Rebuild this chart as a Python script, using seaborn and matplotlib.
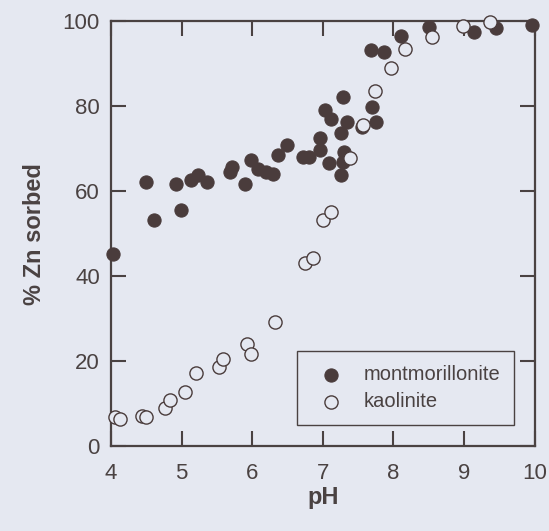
import numpy as np
import pandas as pd
import seaborn as sns
import matplotlib.pyplot as plt

# ============================ DATA ====================================

mont_ph = [4.03, 4.50, 4.61, 4.92, 4.99, 5.13, 5.24, 5.36, 5.68, 5.71,
           5.90, 5.98, 6.08, 6.20, 6.29, 6.36, 6.50, 6.72, 6.80, 6.96,
           6.96, 7.03, 7.09, 7.12, 7.26, 7.26, 7.28, 7.29, 7.30, 7.34,
           7.55, 7.68, 7.69, 7.76, 7.87, 8.10, 8.51, 9.14, 9.45, 9.96]
mont_zn = [45.3, 62.1, 53.2, 61.8, 55.5, 62.7, 63.8, 62.2, 64.5, 65.7,
           61.8, 67.3, 65.1, 64.5, 64.0, 68.5, 70.8, 68.1, 68.1, 72.4,
           69.6, 79.2, 66.7, 77.1, 73.7, 63.8, 82.2, 66.9, 69.2, 76.3,
           75.1, 93.3, 79.7, 76.3, 92.8, 96.5, 98.7, 97.5, 98.5, 99.2]

kaol_ph = [4.06, 4.13, 4.44, 4.50, 4.77, 4.84, 5.05, 5.21, 5.53, 5.58,
           5.93, 5.99, 6.33, 6.75, 6.86, 7.00, 7.11, 7.38, 7.57, 7.74,
           7.96, 8.16, 8.55, 8.98, 9.37]
kaol_zn = [6.9, 6.3, 7.1, 6.9, 8.9, 10.8, 12.8, 17.1, 18.7, 20.6,
           24.0, 21.6, 29.2, 43.0, 44.2, 53.2, 55.0, 67.9, 75.5, 83.6,
           88.9, 93.4, 96.2, 98.8, 99.9]

x_ticks = [4, 5, 6, 7, 8, 9, 10]
y_ticks = [0, 20, 40, 60, 80, 100]

# ============================ STYLE ===================================

bg = '#e5e8f1'
ink = '#4a4242'
dot = '#4a3c3c'

sns.set_style('ticks')
plt.rcParams['font.family'] = ['Liberation Sans', 'DejaVu Sans']
plt.rcParams['text.color'] = ink
plt.rcParams['axes.labelcolor'] = ink
plt.rcParams['xtick.color'] = ink
plt.rcParams['ytick.color'] = ink

df_m = pd.DataFrame({'pH': mont_ph, 'zn': mont_zn})
df_k = pd.DataFrame({'pH': kaol_ph, 'zn': kaol_zn})

fig = plt.figure(figsize=(5.49, 5.31), dpi=100, facecolor=bg)
ax = fig.add_axes([0.202, 0.160, 0.772, 0.800], facecolor=bg)

sns.scatterplot(data=df_m, x='pH', y='zn', ax=ax, s=90, color=dot,
                edgecolor=dot, linewidth=0.8, label='montmorillonite',
                clip_on=False, zorder=3)
sns.scatterplot(data=df_k, x='pH', y='zn', ax=ax, s=90, facecolor=bg,
                edgecolor=dot, linewidth=1.0, label='kaolinite',
                clip_on=False, zorder=4)

ax.set_xlim(4, 10)
ax.set_ylim(0, 100)
ax.set_xticks(x_ticks)
ax.set_yticks(y_ticks)
ax.tick_params(direction='in', length=11, width=1.5, labelsize=16,
               top=True, right=True)
ax.tick_params(axis='x', pad=12)
ax.tick_params(axis='y', pad=8)
for sp in ax.spines.values():
    sp.set_color(ink)
    sp.set_linewidth(1.6)

ax.set_xlabel('pH', fontsize=17, fontweight='bold', labelpad=2)
ax.set_ylabel('% Zn sorbed', fontsize=17, fontweight='bold', labelpad=12)

leg = ax.legend(loc='lower left', bbox_to_anchor=(0.439, 0.049, 0.511, 0.175),
                mode='expand', fontsize=14.5, frameon=True, fancybox=False,
                edgecolor=ink, facecolor=bg, framealpha=1, borderpad=0.7,
                handletextpad=0.6, labelspacing=0.38, borderaxespad=0)
leg.get_frame().set_linewidth(1.0)

fig.savefig('out.png', dpi=100, facecolor=bg)
